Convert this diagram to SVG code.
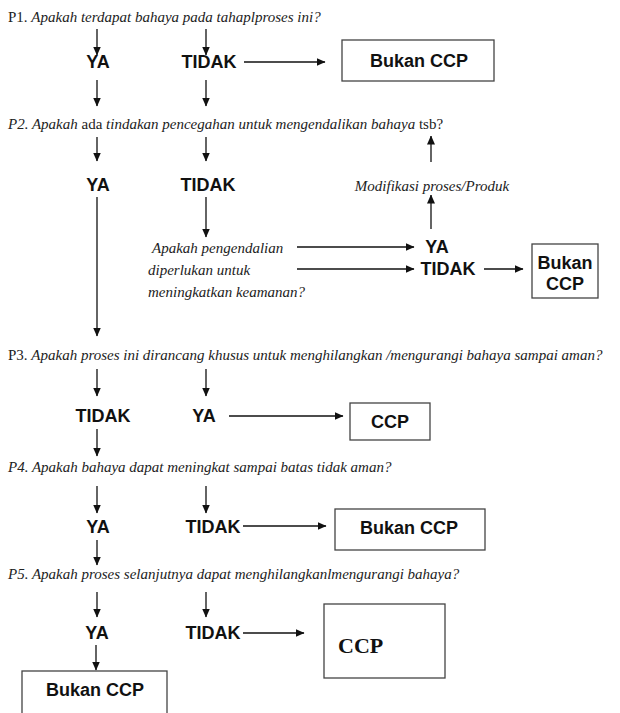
<svg xmlns="http://www.w3.org/2000/svg" width="620" height="713" viewBox="0 0 620 713">
<style>
.q{font-family:"Liberation Serif",serif;font-size:15px;font-style:italic;fill:#222}
.n{font-style:normal}
.l{font-family:"Liberation Sans",Arial,sans-serif;font-size:18px;font-weight:bold;fill:#111;text-anchor:middle}
.box{fill:#fff;stroke:#444;stroke-width:1.3}
.c line{stroke:#111;stroke-width:1.3;marker-end:url(#ah)}
</style>
<defs>
<marker id="ah" markerWidth="9" markerHeight="8" refX="8.5" refY="4" orient="auto" markerUnits="userSpaceOnUse">
<path d="M0,0 L9,4 L0,8 Z" fill="#111"/>
</marker>
</defs>
<rect width="620" height="713" fill="#fff"/>

<g id="p1"><text class="q" x="8" y="22"><tspan class="n">P1. </tspan>Apakah terdapat bahaya pada tahaplproses ini?</text></g>
<g id="p1ya"><text class="l" x="98" y="68">YA</text></g>
<g id="p1tidak"><text class="l" x="209" y="68">TIDAK</text></g>
<g id="p1box"><rect class="box" x="342" y="40" width="152" height="41"/><text class="l" x="419" y="67">Bukan CCP</text></g>

<g id="p2"><text class="q" x="8" y="129">P2. Apakah <tspan class="n">ada</tspan> tindakan pencegahan untuk mengendalikan bahaya <tspan class="n">tsb?</tspan></text></g>
<g id="p2ya"><text class="l" x="98" y="191">YA</text></g>
<g id="p2tidak"><text class="l" x="208" y="191">TIDAK</text></g>
<g id="modif"><text class="q" x="432" y="191" text-anchor="middle">Modifikasi proses/Produk</text></g>
<g id="q2b"><text class="q" x="152" y="253">Apakah pengendalian</text><text class="q" x="148" y="275">diperlukan untuk</text><text class="q" x="148" y="297">meningkatkan keamanan?</text></g>
<g id="q2ya"><text class="l" x="437" y="253">YA</text></g>
<g id="q2tidak"><text class="l" x="448" y="275">TIDAK</text></g>
<g id="q2box"><rect class="box" x="532" y="244" width="66" height="54"/><text class="l" x="565" y="269">Bukan</text><text class="l" x="565" y="290">CCP</text></g>

<g id="p3"><text class="q" x="8" y="360"><tspan class="n">P3. </tspan>Apakah proses ini dirancang khusus untuk menghilangkan /mengurangi bahaya sampai aman?</text></g>
<g id="p3tidak"><text class="l" x="103" y="422">TIDAK</text></g>
<g id="p3ya"><text class="l" x="204" y="422">YA</text></g>
<g id="p3box"><rect class="box" x="350" y="403" width="80" height="37"/><text class="l" x="390" y="428">CCP</text></g>

<g id="p4"><text class="q" x="8" y="472">P4. Apakah bahaya dapat meningkat sampai batas tidak aman?</text></g>
<g id="p4ya"><text class="l" x="98" y="533">YA</text></g>
<g id="p4tidak"><text class="l" x="213" y="533">TIDAK</text></g>
<g id="p4box"><rect class="box" x="335" y="509" width="150" height="41"/><text class="l" x="409" y="534">Bukan CCP</text></g>

<g id="p5"><text class="q" x="8" y="579">P5. Apakah proses selanjutnya dapat menghilangkanlmengurangi bahaya?</text></g>
<g id="p5ya"><text class="l" x="97" y="639">YA</text></g>
<g id="p5tidak"><text class="l" x="213" y="639">TIDAK</text></g>
<g id="p5ccp"><rect class="box" x="324" y="604" width="121" height="74"/><text x="338" y="653" style="font-family:'Liberation Serif',serif;font-size:22px;font-weight:bold;fill:#111">CCP</text></g>
<g id="p5box"><rect class="box" x="22" y="671" width="145" height="50"/><text class="l" x="95" y="696">Bukan CCP</text></g>

<g class="c" id="connectors">
<line x1="97" y1="29" x2="97" y2="55"/>
<line x1="206" y1="29" x2="206" y2="55"/>
<line x1="244" y1="62" x2="325" y2="62"/>
<line x1="97" y1="80" x2="97" y2="106"/>
<line x1="206" y1="80" x2="206" y2="106"/>
<line x1="97" y1="137" x2="97" y2="161"/>
<line x1="206" y1="137" x2="206" y2="161"/>
<line x1="431" y1="162" x2="431" y2="136"/>
<line x1="431" y1="229" x2="431" y2="195"/>
<line x1="97" y1="197" x2="97" y2="336"/>
<line x1="206" y1="197" x2="206" y2="237"/>
<line x1="297" y1="247" x2="414" y2="247"/>
<line x1="297" y1="269" x2="414" y2="269"/>
<line x1="484" y1="269" x2="523" y2="269"/>
<line x1="97" y1="369" x2="97" y2="396"/>
<line x1="206" y1="369" x2="206" y2="396"/>
<line x1="229" y1="416" x2="343" y2="416"/>
<line x1="97" y1="429" x2="97" y2="456"/>
<line x1="97" y1="486" x2="97" y2="513"/>
<line x1="206" y1="486" x2="206" y2="513"/>
<line x1="243" y1="526" x2="326" y2="526"/>
<line x1="97" y1="540" x2="97" y2="565"/>
<line x1="97" y1="592" x2="97" y2="617"/>
<line x1="206" y1="592" x2="206" y2="617"/>
<line x1="243" y1="633" x2="304" y2="633"/>
<line x1="96" y1="645" x2="96" y2="670"/>
</g>
</svg>
